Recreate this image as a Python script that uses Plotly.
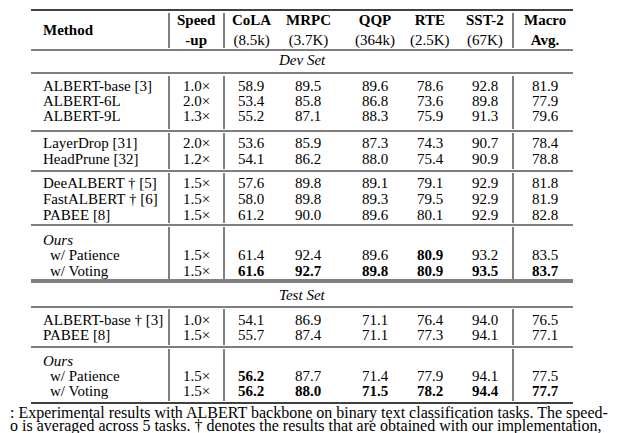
import plotly.graph_objects as go

# table content
methods = ["ALBERT-base [3]", "ALBERT-6L", "ALBERT-9L",
           "LayerDrop [31]", "HeadPrune [32]",
           "DeeALBERT † [5]", "FastALBERT † [6]", "PABEE [8]",
           "Ours", "w/ Patience", "w/ Voting",
           "ALBERT-base † [3]", "PABEE [8]",
           "Ours", "w/ Patience", "w/ Voting"]
speedup = ["1.0×", "2.0×", "1.3×", "2.0×", "1.2×", "1.5×", "1.5×", "1.5×",
           "", "1.5×", "1.5×", "1.0×", "1.5×", "", "1.5×", "1.5×"]
cola = ["58.9", "53.4", "55.2", "53.6", "54.1", "57.6", "58.0", "61.2", "", "61.4", "<b>61.6</b>",
        "54.1", "55.7", "", "<b>56.2</b>", "<b>56.2</b>"]
mrpc = ["89.5", "85.8", "87.1", "85.9", "86.2", "89.8", "89.8", "90.0", "", "92.4", "<b>92.7</b>",
        "86.9", "87.4", "", "87.7", "<b>88.0</b>"]
qqp = ["89.6", "86.8", "88.3", "87.3", "88.0", "89.1", "89.3", "89.6", "", "89.6", "<b>89.8</b>",
       "71.1", "71.1", "", "71.4", "<b>71.5</b>"]
rte = ["78.6", "73.6", "75.9", "74.3", "75.4", "79.1", "79.5", "80.1", "", "<b>80.9</b>", "<b>80.9</b>",
       "76.4", "77.3", "", "77.9", "<b>78.2</b>"]
sst2 = ["92.8", "89.8", "91.3", "90.7", "90.9", "92.9", "92.9", "92.9", "", "93.2", "<b>93.5</b>",
        "94.0", "94.1", "", "94.1", "<b>94.4</b>"]
macro = ["81.9", "77.9", "79.6", "78.4", "78.8", "81.8", "81.9", "82.8", "", "83.5", "<b>83.7</b>",
         "76.5", "77.1", "", "77.5", "<b>77.7</b>"]
headers = ["<b>Speed</b><br><b>-up</b>", "<b>CoLA</b><br>(8.5k)", "<b>MRPC</b><br>(3.7K)",
           "<b>QQP</b><br>(364k)", "<b>RTE</b><br>(2.5K)", "<b>SST-2</b><br>(67K)",
           "<b>Macro</b><br><b>Avg.</b>"]
caption = [": Experimental results with ALBERT backbone on binary text classification tasks. The speed-",
           "o is averaged across 5 tasks. † denotes the results that are obtained with our implementation,"]

row_y = [78, 93, 108, 135, 151, 175, 191, 207, 232, 247, 263, 312, 327, 353, 368, 383]
col_x = [188, 243, 300, 367, 422, 477, 537]
FONT = "Liberation Serif"

fig = go.Figure()
ann = []
for i, m in enumerate(methods):
    txt = "<i>Ours</i>" if m == "Ours" else m
    x = 40 if m.startswith("w/") else 33
    ann.append(dict(x=x, y=row_y[i], text=txt, xanchor="left"))
    for c, col in enumerate([speedup, cola, mrpc, qqp, rte, sst2, macro]):
        if col[i]:
            ann.append(dict(x=col_x[c], y=row_y[i], text=col[i], xanchor="center"))
for c, h in enumerate(headers):
    ann.append(dict(x=col_x[c], y=22, text=h, xanchor="center"))
ann.append(dict(x=33, y=22, text="<b>Method</b>", xanchor="left"))
ann.append(dict(x=294, y=52, text="<i>Dev Set</i>", xanchor="center"))
ann.append(dict(x=294, y=287, text="<i>Test Set</i>", xanchor="center"))
for a in ann:
    a.update(xref="x", yref="y", showarrow=False, yanchor="middle",
             font=dict(family=FONT, size=15, color="black"))
for k, line in enumerate(caption):
    ann.append(dict(x=0, y=[405, 418][k], xref="x", yref="y", text=line, showarrow=False,
                    xanchor="left", yanchor="middle",
                    font=dict(family=FONT, size=16, color="black")))

shapes = []
for y, w in [(2, 1.6), (42, 1), (65, 1), (123, 1), (163, 1), (217, 1),
             (272, 1), (274, 1), (299, 1), (339, 1), (395, 1.6)]:
    shapes.append(dict(type="line", x0=23, x1=565, y0=y, y1=y, line=dict(color="black", width=w)))
for y0, y1 in [(5, 40), (68, 121), (125, 161), (165, 215), (219, 271), (301, 337), (341, 393)]:
    for x in [161, 216, 505]:
        shapes.append(dict(type="line", x0=x, x1=x, y0=y0, y1=y1, line=dict(color="black", width=1)))

fig.update_layout(
    width=640, height=433, margin=dict(l=0, r=0, t=0, b=0),
    paper_bgcolor="white", plot_bgcolor="white",
    xaxis=dict(range=[0, 640], visible=False),
    yaxis=dict(range=[433, 0], visible=False),
    annotations=ann, shapes=shapes, showlegend=False,
)
fig.write_html("out.html")
